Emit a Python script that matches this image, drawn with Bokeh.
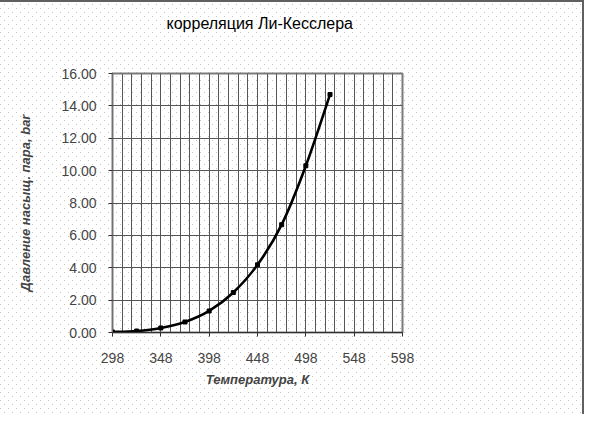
import numpy as np
from bokeh.plotting import figure
from bokeh.models import FixedTicker, NumeralTickFormatter, Range1d, Title
from bokeh.embed import file_html
from bokeh.resources import INLINE

# ---- data ----
title_text = "корреляция Ли-Кесслера"
x_label = "Температура, К"
y_label = "Давление насыщ. пара, bar"

temperature_K = [298, 323, 348, 373, 398, 423, 448, 473, 498, 523]
pressure_bar = [0.03, 0.09, 0.28, 0.65, 1.33, 2.47, 4.18, 6.66, 10.3, 14.7]

x_major_ticks = [298, 348, 398, 448, 498, 548, 598]
x_minor_ticks = [308, 318, 328, 338, 358, 368, 378, 388, 408, 418, 428, 438,
                 458, 468, 478, 488, 508, 518, 528, 538, 558, 568, 578, 588]
y_ticks = [0, 2, 4, 6, 8, 10, 12, 14, 16]

FONT = "Liberation Sans"

dots_bg = ("url(\"data:image/svg+xml;utf8,<svg xmlns='http://www.w3.org/2000/svg' "
           "width='8' height='8'><rect x='0' y='0' width='1' height='1' fill='%23c4c4c4'/>"
           "<rect x='4' y='4' width='1' height='1' fill='%23c4c4c4'/></svg>\")")

p = figure(
    width=584, height=414,
    frame_width=290, frame_height=259,
    min_border_left=112, min_border_right=182,
    min_border_top=73, min_border_bottom=82,
    x_range=Range1d(298, 598), y_range=Range1d(0, 16),
    output_backend="svg", toolbar_location=None,
)
p.styles = {
    "background-color": "white",
    "background-image": dots_bg,
    "box-shadow": "inset -2px 2px 0 #606060",
}
p.border_fill_color = None
p.background_fill_color = None
p.outline_line_color = "#7a7a7a"
p.outline_line_width = 2

# visible title (outermost)
p.title.text = title_text
p.title.align = "left"
p.title.offset = 54
p.title.standoff = 0
p.title.text_font = FONT
p.title.text_font_size = "16px"
p.title.text_font_style = "normal"
p.title.text_color = "black"

# spacer between the plot area and the title (nearest the frame)
p.add_layout(Title(
    text=" ", standoff=23, text_font=FONT, text_font_size="16px",
), "above")

# x axis
xa = p.xaxis[0]
xa.ticker = FixedTicker(ticks=x_major_ticks, minor_ticks=x_minor_ticks)
xa.axis_label = x_label
xa.axis_label_text_font = FONT
xa.axis_label_text_font_size = "13px"
xa.axis_label_text_font_style = "bold italic"
xa.axis_label_standoff = 6
xa.major_label_text_font = FONT
xa.major_label_text_font_size = "14px"
xa.major_label_standoff = 16
xa.major_tick_out = 4
xa.major_tick_in = 0
xa.minor_tick_out = 0
xa.minor_tick_in = 0
xa.axis_line_color = "#303030"
xa.major_tick_line_color = "#303030"

# y axis
ya = p.yaxis[0]
ya.ticker = FixedTicker(ticks=y_ticks)
ya.formatter = NumeralTickFormatter(format="0.00")
ya.axis_label = y_label
ya.axis_label_text_font = FONT
ya.axis_label_text_font_size = "13px"
ya.axis_label_text_font_style = "bold italic"
ya.axis_label_standoff = 25
ya.major_label_text_font = FONT
ya.major_label_text_font_size = "14px"
ya.major_label_standoff = 12
ya.major_tick_out = 4
ya.major_tick_in = 0
ya.minor_tick_out = 0
ya.minor_tick_in = 0
ya.axis_line_color = "#707070"
ya.major_tick_line_color = "#303030"

# grid
p.xgrid.grid_line_color = "#555555"
p.xgrid.grid_line_width = 1
p.xgrid.minor_grid_line_color = "#555555"
p.xgrid.minor_grid_line_width = 1
p.ygrid.ticker = FixedTicker(ticks=y_ticks)
p.ygrid.grid_line_color = "#555555"
p.ygrid.grid_line_width = 1

# smooth curve through the data points (Catmull-Rom -> cubic Bezier)
xs = np.array(temperature_K, dtype=float)
ys = np.array(pressure_bar, dtype=float)
n = len(xs)
px = np.concatenate([[xs[0]], xs, [xs[-1]]])
py = np.concatenate([[ys[0]], ys, [ys[-1]]])
x0 = xs[:-1]; y0 = ys[:-1]; x1 = xs[1:]; y1 = ys[1:]
cx0 = xs[:-1] + (px[2:n + 1] - px[0:n - 1]) / 6.0
cy0 = ys[:-1] + (py[2:n + 1] - py[0:n - 1]) / 6.0
cx1 = xs[1:] - (px[3:n + 2] - px[1:n]) / 6.0
cy1 = ys[1:] - (py[3:n + 2] - py[1:n]) / 6.0
p.bezier(x0=x0, y0=y0, x1=x1, y1=y1, cx0=cx0, cy0=cy0, cx1=cx1, cy1=cy1,
         line_color="black", line_width=2.6)
p.scatter(temperature_K, pressure_bar, marker="square", size=4,
          fill_color="black", line_color="black")

open("out.html", "w").write(file_html(p, INLINE))
